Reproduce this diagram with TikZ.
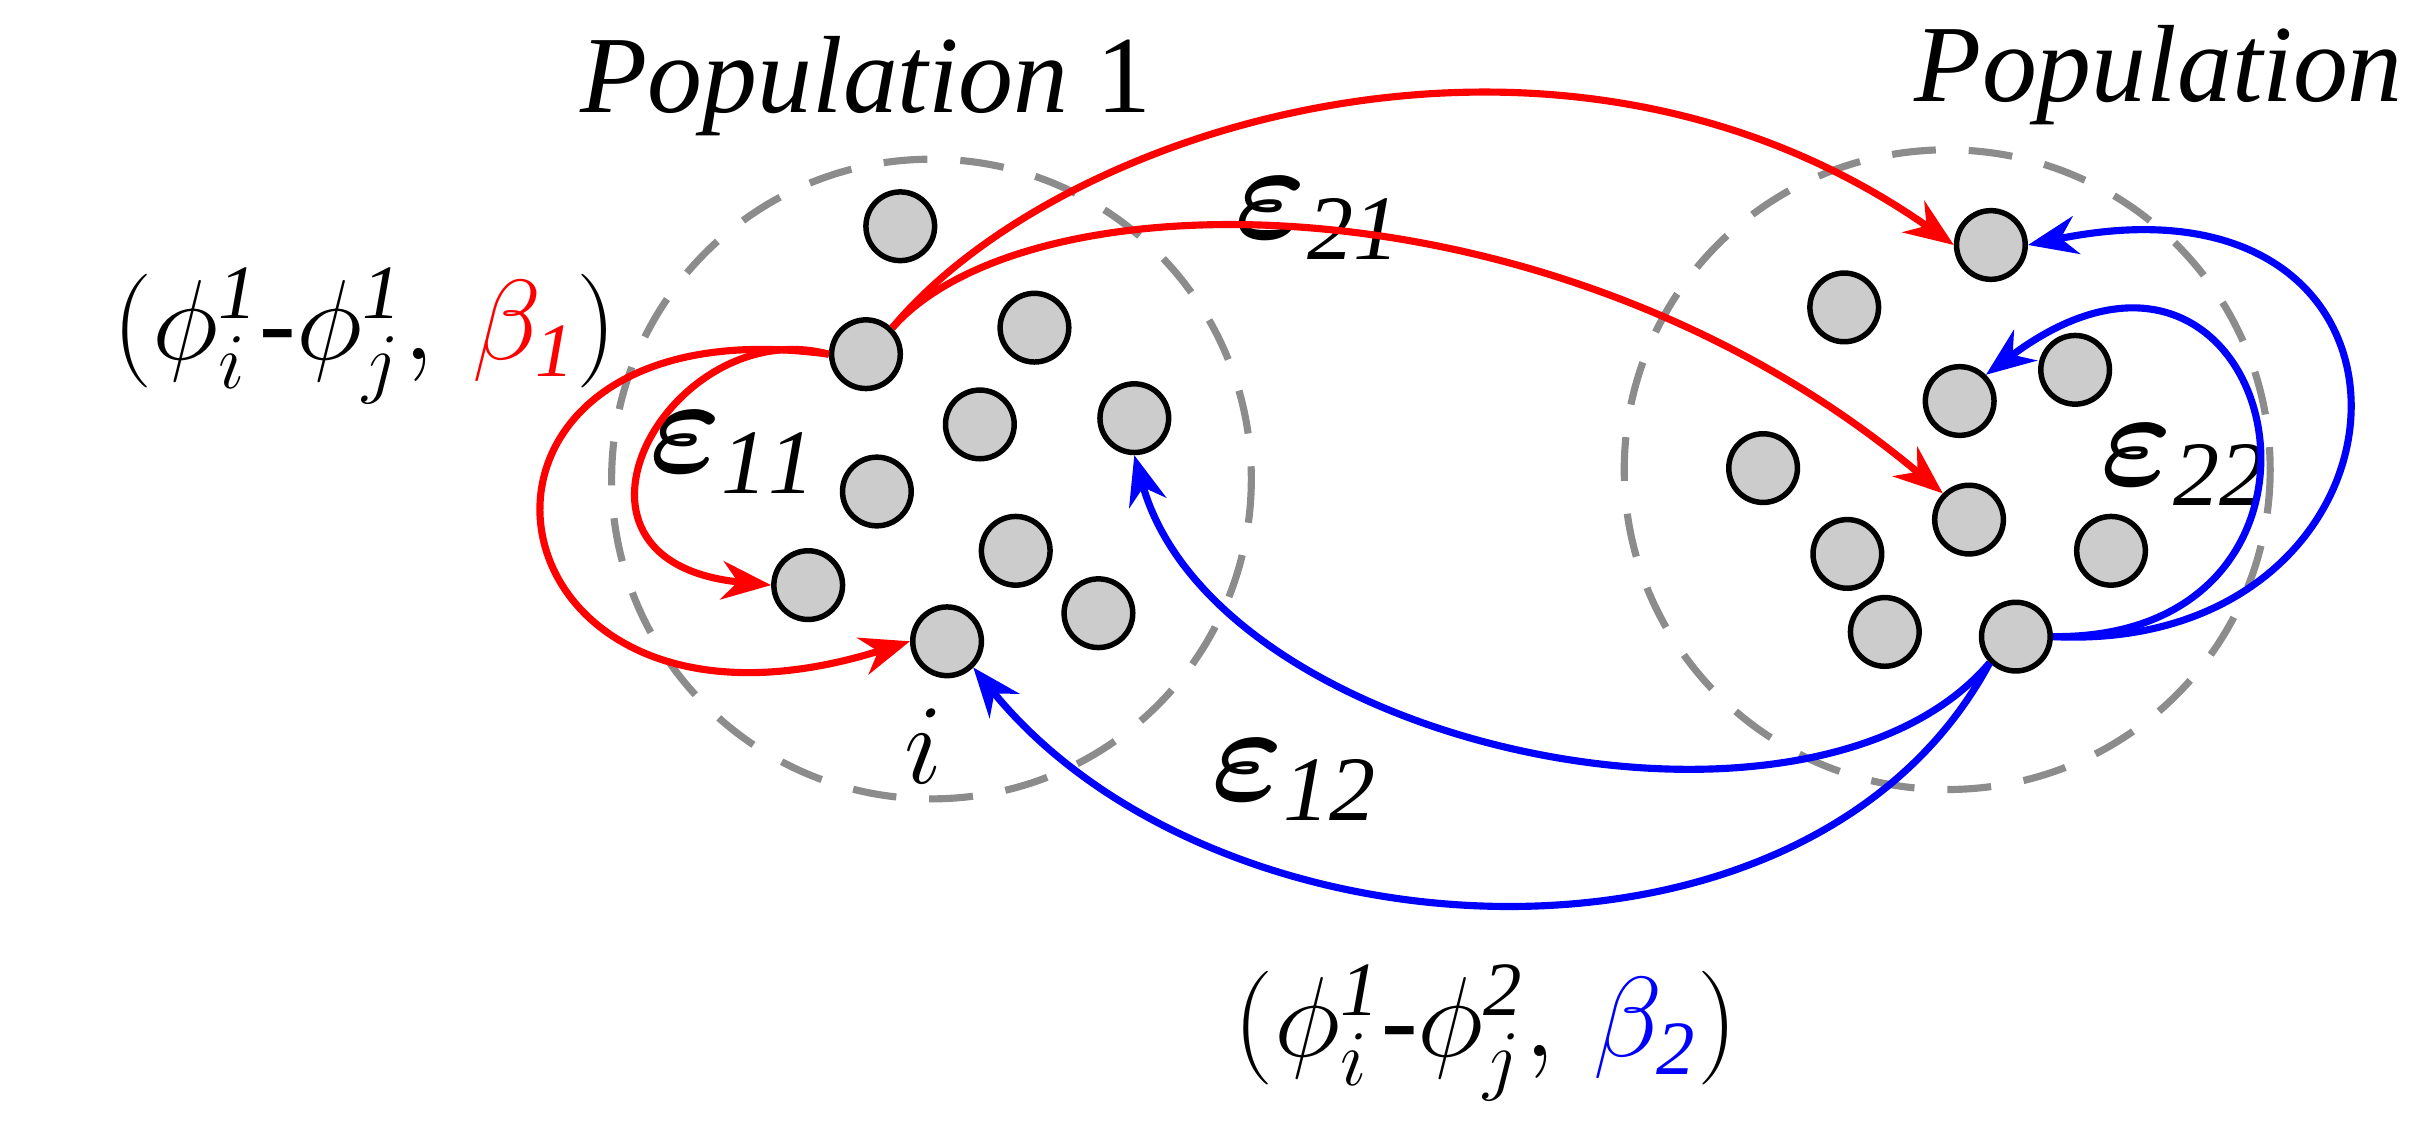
\documentclass[tikz,border=0pt]{standalone}
\usepackage{amsmath}
\usepackage{fontspec}
\setmainfont{Liberation Serif}
\usetikzlibrary{arrows.meta}
\tikzset{dot/.style={circle,draw=black,fill=black!20,line width=1pt,minimum size=0.44cm,inner sep=0pt},
pop/.style={draw=black!45,dashed,dash pattern=on 8pt off 6pt,line width=1.3pt},
ra/.style={draw=red,line width=1.3pt,-{Stealth[length=9pt,width=7pt]}},
ba/.style={draw=blue,line width=1.3pt,-{Stealth[length=9pt,width=7pt]}},
lab/.style={font=\fontsize{20}{22}\selectfont\itshape},
eps/.style={font=\fontsize{24}{26}\selectfont\bfseries\itshape}}
\begin{document}
\begin{tikzpicture}[x=0.01cm,y=-0.01cm]
\useasboundingbox (0,0) rectangle (1560,729);
\draw[pop] (597,307) ellipse [x radius=205,y radius=205];
\draw[pop] (1248,301) ellipse [x radius=207,y radius=205];
\foreach \n/\x/\y in {a1/577/145,a2/555/227,a3/663/210,a4/628/272,a5/727/268,a6/562/315,a7/651/353,a8/518/375,a9/607/411,a10/704/393,b1/1276/157,b2/1182/197,b3/1330/237,b4/1256/257,b5/1130/300,b6/1262/333,b7/1184/355,b8/1353/353,b9/1208/405,b10/1292/408}
  \node[dot] (\n) at (\x,\y) {};
\node[lab] (p1) at (555,55) {Population \upshape 1};
\node[lab] (p2) at (1410,48) {Population \upshape 2};
\node[lab,anchor=west] (l1) at (5,215) {$\mathit{\Lambda}(\phi_i^{\mathit{1}}\text{-}\phi_j^{\mathit{1}},\,\textcolor{red}{\beta_{\mathit{1}}})$};
\node[lab] (l2) at (925,662) {$\mathit{\Lambda}(\phi_i^{\mathit{1}}\text{-}\phi_j^{\mathit{2}},\,\textcolor{blue}{\beta_{\mathit{2}}})$};
\node[eps] (e11) at (470,290) {$\boldsymbol{\varepsilon}_{\mathit{11}}$};
\node[eps] (e21) at (845,140) {$\boldsymbol{\varepsilon}_{\mathit{21}}$};
\node[eps] (e22) at (1400,298) {$\boldsymbol{\varepsilon}_{\mathit{22}}$};
\node[eps] (e12) at (830,500) {$\boldsymbol{\varepsilon}_{\mathit{12}}$};
\node[lab] (ii) at (592,478) {$i$};
\draw[ra] (a2.north east) .. controls (680,80) and (1000,-20) .. (b1.west);
\draw[ra] (a2.north east) .. controls (660,110) and (1000,110) .. (b6.north west);
\draw[ra] (a2.west) .. controls (430,200) and (340,360) .. (a8.west);
\draw[ra] (a2.west) .. controls (260,190) and (300,500) .. (a9.west);
\draw[ba] (b10.east) .. controls (1560,420) and (1580,100) .. (b1.east);
\draw[ba] (b10.east) .. controls (1530,410) and (1460,100) .. (b4.north east);
\draw[ba] (b10.south west) .. controls (1160,560) and (780,480) .. (a5.south);
\draw[ba] (b10.south west) .. controls (1160,640) and (780,620) .. (a9.south east);
\end{tikzpicture}
\end{document}
